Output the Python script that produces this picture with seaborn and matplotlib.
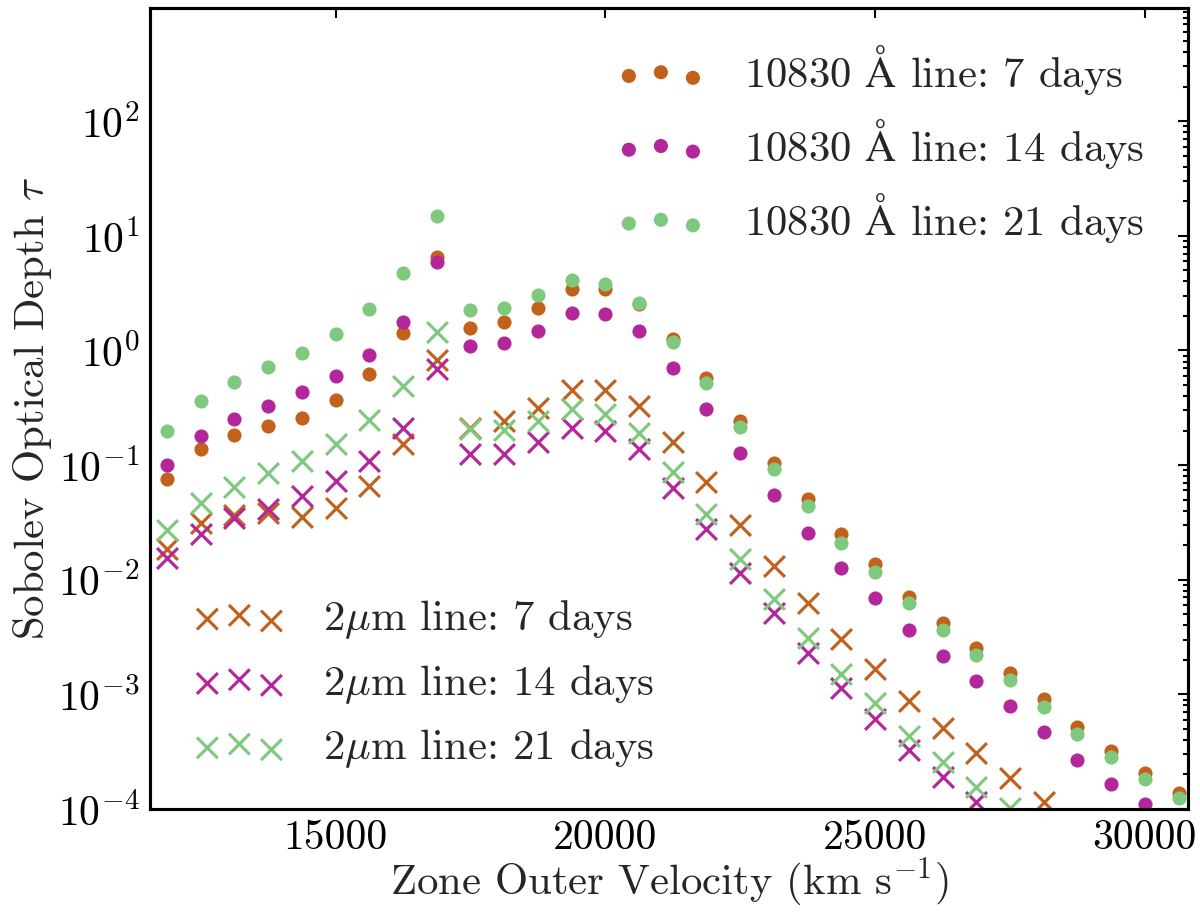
import numpy as np
import pandas as pd
import matplotlib
matplotlib.use("Agg")
import matplotlib.pyplot as plt
import seaborn as sns

# ---------------- data ----------------
velocity = [11875, 12500, 13125, 13750, 14375, 15000, 15625, 16250, 16875, 17500,
            18125, 18750, 19375, 20000, 20625, 21250, 21875, 22500, 23125, 23750,
            24375, 25000, 25625, 26250, 26875, 27500, 28125, 28750, 29375, 30000, 30625]

he10830_7d = [0.075, 0.137, 0.182, 0.219, 0.259, 0.369, 0.618, 1.41, 6.56, 1.56,
              1.77, 2.36, 3.4, 3.45, 2.55, 1.26, 0.578, 0.242, 0.105, 0.0502,
              0.0249, 0.0136, 0.00713, 0.00417, 0.00256, 0.00153, 0.000906, 0.00052,
              0.000321, 0.000208, 0.000139]
he10830_14d = [0.10, 0.179, 0.25, 0.33, 0.43, 0.60, 0.91, 1.78, 5.9, 1.09,
               1.17, 1.47, 2.1, 2.09, 1.49, 0.696, 0.306, 0.127, 0.0547, 0.0258,
               0.0127, 0.00689, 0.00364, 0.00214, 0.00131, 0.000792, 0.000465, 0.000268,
               0.000164, 0.00011, 0.00007]
he10830_21d = [0.198, 0.361, 0.53, 0.715, 0.955, 1.40, 2.28, 4.75, 14.8, 2.23,
               2.34, 3.02, 4.1, 3.76, 2.61, 1.18, 0.522, 0.214, 0.093, 0.044,
               0.021, 0.0117, 0.00622, 0.00362, 0.00221, 0.00133, 0.000783, 0.000455,
               0.000285, 0.000184, 0.000124]

he2um_7d = [0.0187, 0.0315, 0.0364, 0.0384, 0.0355, 0.0426, 0.0656, 0.153, 0.82, 0.212,
            0.242, 0.316, 0.45, 0.448, 0.327, 0.159, 0.0716, 0.030, 0.0132, 0.00622,
            0.00306, 0.00168, 0.000875, 0.000513, 0.000311, 0.000188, 0.000114, 0.000065,
            0.00004, 0.000025, 0.000015]
he2um_14d = [0.0154, 0.0252, 0.0348, 0.0417, 0.0537, 0.0726, 0.108, 0.212, 0.683, 0.124,
             0.126, 0.159, 0.212, 0.198, 0.139, 0.0634, 0.0275, 0.0115, 0.0051, 0.00231,
             0.00113, 0.000615, 0.000327, 0.00019, 0.000114, 0.00006, 0.000035, 0.00002,
             0.000012, 0.000007, 0.000004]
he2um_21d = [0.027, 0.047, 0.065, 0.085, 0.108, 0.153, 0.247, 0.489, 1.46, 0.205,
             0.202, 0.243, 0.31, 0.28, 0.192, 0.0868, 0.0377, 0.0153, 0.0068, 0.00313,
             0.0015, 0.000836, 0.000433, 0.000257, 0.000157, 0.000103, 0.00006, 0.000035,
             0.00002, 0.000012, 0.000007]

labels_10830 = [r"10830 $\mathrm{\AA}$ line: 7 days",
                r"10830 $\mathrm{\AA}$ line: 14 days",
                r"10830 $\mathrm{\AA}$ line: 21 days"]
labels_2um = [r"2$\mu$m line: 7 days",
              r"2$\mu$m line: 14 days",
              r"2$\mu$m line: 21 days"]
colors = ["#c1611c", "#b3279b", "#7fc97f"]

# ---------------- style ----------------
sns.set_style("white")
plt.rcParams.update({
    "font.family": ["cmr10", "DejaVu Serif"],
    "mathtext.fontset": "cm",
    "axes.formatter.use_mathtext": True,
    "axes.unicode_minus": True,
    "font.size": 20.5,
    "axes.linewidth": 1.5,
    "axes.edgecolor": "black",
    "xtick.direction": "in",
    "ytick.direction": "in",
    "xtick.top": True,
    "ytick.right": True,
    "xtick.major.size": 5,
    "ytick.major.size": 5,
    "ytick.minor.size": 2.5,
    "xtick.major.width": 1.0,
    "ytick.major.width": 1.0,
    "ytick.minor.width": 1.0,
    "xtick.color": "black",
    "ytick.color": "black",
    "xtick.labelsize": 20,
    "ytick.labelsize": 20,
    "axes.labelsize": 20.5,
})

fig = plt.figure(figsize=(8, 913 / 150), dpi=150)
ax = fig.add_axes([150 / 1200, 1 - 809 / 913, (1188 - 150) / 1200, (809 - 8) / 913])

circle_handles = []
for vals, lab, col in zip([he10830_7d, he10830_14d, he10830_21d], labels_10830, colors):
    df = pd.DataFrame({"v": velocity, "tau": vals})
    sns.scatterplot(data=df, x="v", y="tau", ax=ax, marker="o", s=46, color=col,
                    linewidth=0, label=lab, legend=False)
    circle_handles.append(ax.collections[-1])

cross_handles = []
for vals, lab, col in zip([he2um_7d, he2um_14d, he2um_21d], labels_2um, colors):
    df = pd.DataFrame({"v": velocity, "tau": vals})
    sns.scatterplot(data=df, x="v", y="tau", ax=ax, marker="x", s=100, color=col,
                    linewidth=1.5, label=lab, legend=False)
    cross_handles.append(ax.collections[-1])

ax.set_yscale("log")
ax.set_xlim(11560, 30800)
ax.set_ylim(1e-4, 970)
ax.set_xticks([15000, 20000, 25000, 30000])
ax.xaxis.set_major_formatter(matplotlib.ticker.FuncFormatter(lambda v, p: f"{int(v)}"))
ax.minorticks_on()
ax.tick_params(axis="x", which="minor", bottom=False, top=False)
ax.tick_params(axis="x", which="major", pad=5)
ax.tick_params(axis="y", which="major", pad=5)
for s in ax.spines.values():
    s.set_visible(True)
    s.set_linewidth(1.5)
    s.set_color("black")

ax.set_xlabel(r"Zone Outer Velocity (km s$^{-1}$)", labelpad=-1)
ax.set_ylabel(r"Sobolev Optical Depth $\tau$", labelpad=2)

leg1 = ax.legend(handles=circle_handles, labels=labels_10830, loc="upper right",
                 bbox_to_anchor=(0.991, 1.0),
                 scatterpoints=3, frameon=False, fontsize=20.5, labelspacing=0.44,
                 handlelength=2.1, handletextpad=0.9, borderaxespad=0.4)
ax.add_artist(leg1)
ax.legend(handles=cross_handles, labels=labels_2um, loc="lower left",
          bbox_to_anchor=(0.01, 0.006),
          scatterpoints=3, frameon=False, fontsize=20.5, labelspacing=0.5,
          handlelength=2.1, handletextpad=0.9, borderaxespad=0.4)

fig.savefig("out.png", dpi=150)
